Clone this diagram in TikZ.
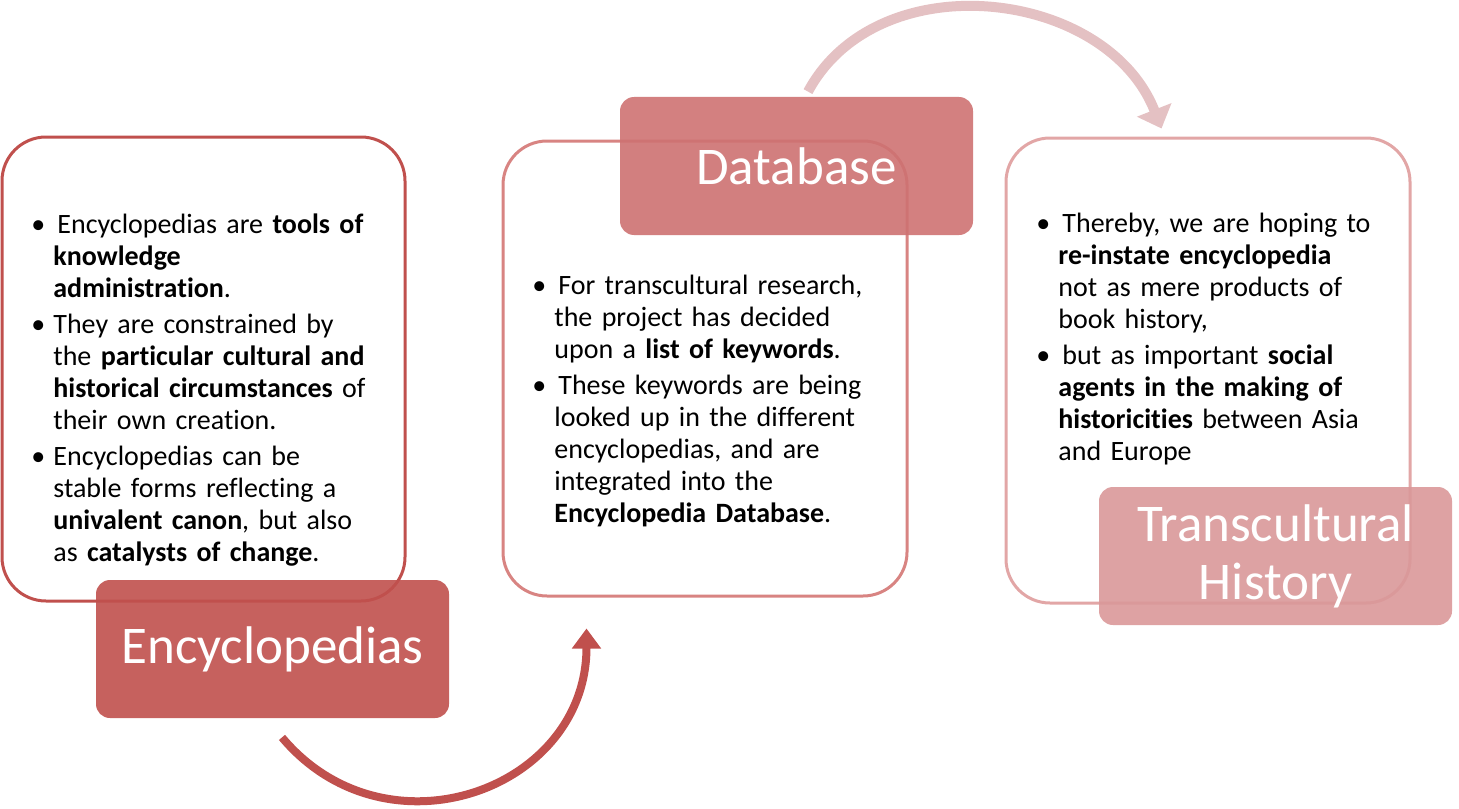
\documentclass[tikz,border=0pt]{standalone}
\usepackage{fontspec}
\setmainfont{Carlito}[Ligatures=NoCommon]
\usepackage{enumitem}
\usetikzlibrary{arrows.meta, calc}
\definecolor{encred}{RGB}{192,80,77}
\definecolor{dbline}{RGB}{216,132,130}
\definecolor{tcline}{RGB}{226,166,166}
\definecolor{dbfill}{RGB}{206,114,114}
\definecolor{tcfill}{RGB}{218,152,153}
\definecolor{toparrow}{RGB}{228,193,195}
\setlist[itemize]{label=\textbullet, leftmargin=9pt, labelsep=4pt, itemsep=2pt, parsep=0pt, topsep=0pt, partopsep=0pt}
\tikzset{
  outlinebox/.style={draw=#1, line width=1.5pt, rounded corners=22pt, fill=white},
  tagbox/.style={fill=#1, fill opacity=0.9, text opacity=1, text=white, rounded corners=7pt,
    minimum width=176.5pt, minimum height=69pt, align=center, font=\fontsize{26.5}{29}\selectfont},
  bodytext/.style={anchor=north west, inner sep=0pt, text width=200pt, align=left,
    font=\fontsize{14}{16}\selectfont},
  flowarrow/.style={line cap=butt, -{Triangle[width=#1, length=10pt]}}
}

\begin{document}
\begin{tikzpicture}[x=0.5pt, y=-0.5pt]
\useasboundingbox (0,0) rectangle (1459,808);

\node[outlinebox=encred, minimum width=201.5pt, minimum height=232pt] (encbox) at (203.5,369) {};
\node[outlinebox=dbline, minimum width=202pt, minimum height=227.5pt] (dbbox) at (705,368.5) {};
\node[outlinebox=tcline, minimum width=202pt, minimum height=232.5pt] (tcbox) at (1208,370.5) {};

\node[tagbox=encred] (enctag) at (272.5,649) {Encyclopedias};
\node[tagbox=dbfill] (dbtag) at (796.5,166) {Database};
\node[tagbox=tcfill] (tctag) at (1275.5,556) {Transcultural\\History};

% arrows between the steps
\draw[flowarrow=14pt, encred, line width=4pt] ($(enctag.south)+(9.5,19)$)
  .. controls +(104,124) and +(0,162) .. ($(dbbox.south west)+(85,31)$);
\draw[flowarrow=18pt, toparrow, line width=5pt] ($(dbtag.north)+(11.5,-5)$)
  .. controls +(70,-130) and +(-55,-140) .. ($(tcbox.north west)+(157,-8)$);

\node[bodytext] (enctext) at (35,201) {\begin{itemize}
  \item \hspace{2pt}Encyclopedias are \textbf{tools of}\\ \textbf{knowledge}\\ \textbf{administration}.
  \item They are constrained by\\ the \textbf{particular cultural and}\\ \textbf{historical circumstances} of\\ their own creation.
  \item Encyclopedias can be\\ stable forms reflecting a\\ \textbf{univalent canon}, but also\\ as \textbf{catalysts of change}.
\end{itemize}};
\node[bodytext] (dbtext) at (536,262) {\begin{itemize}
  \item \hspace{2pt}For transcultural research,\\ the project has decided\\ upon a \textbf{list of keywords}.
  \item \hspace{2pt}These keywords are being\\ looked up in the different\\ encyclopedias, and are\\ integrated into the\\ \textbf{Encyclopedia Database}.
\end{itemize}};
\node[bodytext] (tctext) at (1040,200) {\begin{itemize}
  \item \hspace{2pt}Thereby, we are hoping to\\ \textbf{re-instate encyclopedia}\\ not as mere products of\\ book history,
  \item \hspace{2pt}but as important \textbf{social}\\ \textbf{agents in the making of}\\ \textbf{historicities} between Asia\\ and Europe
\end{itemize}};
\end{tikzpicture}
\end{document}
